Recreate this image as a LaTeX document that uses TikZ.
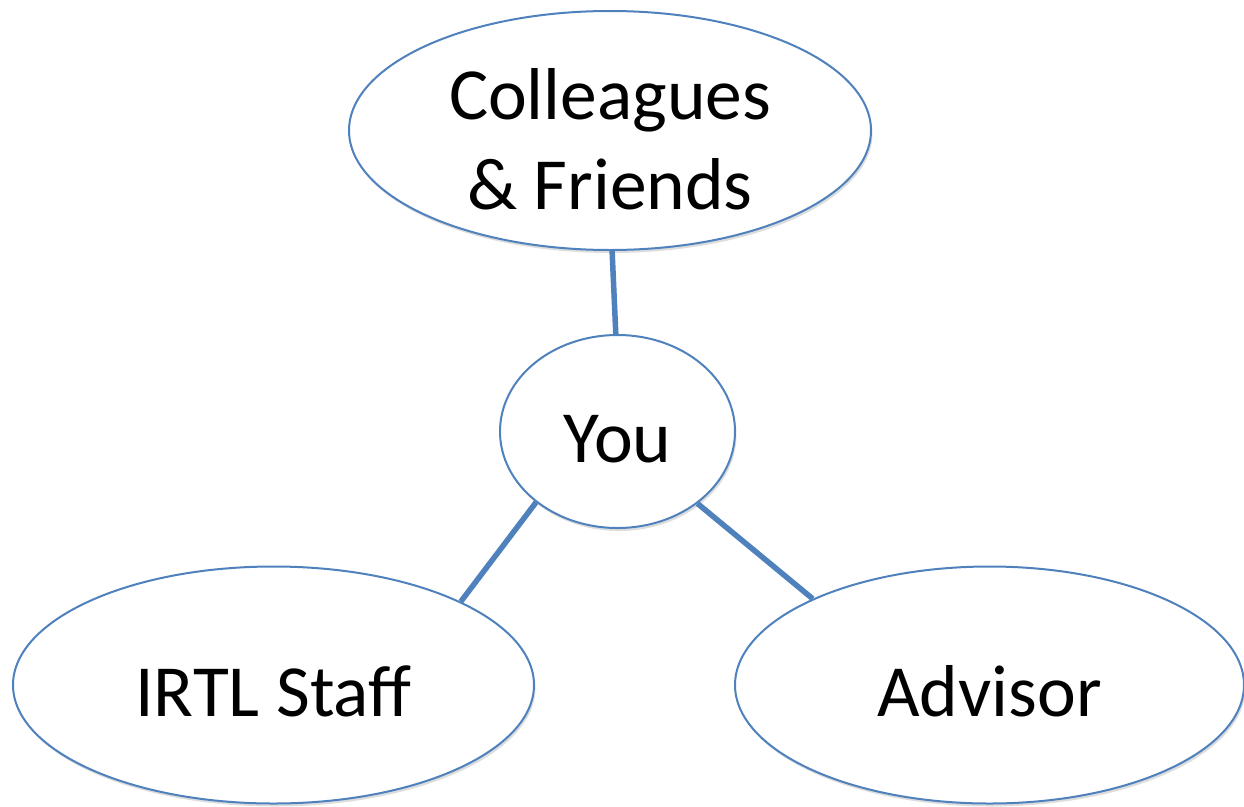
\documentclass[tikz,border=0pt]{standalone}
\usepackage{fontspec}
\setmainfont{Carlito}
\usetikzlibrary{shapes.geometric,shadows}
\definecolor{obl}{RGB}{79,129,189}
\tikzset{
  bub/.style={ellipse, draw=obl, line width=2pt, fill=white, inner sep=0pt,
    drop shadow={shadow xshift=1.5pt, shadow yshift=-3pt, opacity=0.22, fill=black!60}},
  lab/.style={font=\fontsize{73.5}{90}\selectfont, align=center, inner sep=0pt},
  link/.style={draw=obl, line width=5.5pt}
}
\begin{document}
\begin{tikzpicture}[x=1pt,y=-1pt]
\useasboundingbox (0,0) rectangle (1244,806);
\clip (0,0) rectangle (1244,806);
\fill[white] (0,0) rectangle (1244,806);
\node[bub, minimum width=522pt, minimum height=239pt,
  label={[lab, name=colltxt, yshift=-8.5pt]center:Colleagues\\\& Friends}] (coll) at (610,130.5) {};
\node[bub, minimum width=235pt, minimum height=193pt,
  label={[lab, name=youtxt, yshift=-7.5pt]center:You}] (you) at (617.5,431.5) {};
\node[bub, minimum width=521pt, minimum height=237pt,
  label={[lab, name=irtltxt, yshift=-6.5pt]center:IRTL Staff}] (irtl) at (273.5,685) {};
\node[bub, minimum width=509pt, minimum height=237pt,
  label={[lab, name=advtxt, yshift=-6.5pt]center:Advisor}] (adv) at (989.5,685) {};
\draw[link] (coll.271) -- (you.91);
\draw[link] (you.221.4) -- (irtl.24.7);
\draw[link] (you.318.3) -- (adv.154.7);
\end{tikzpicture}
\end{document}
